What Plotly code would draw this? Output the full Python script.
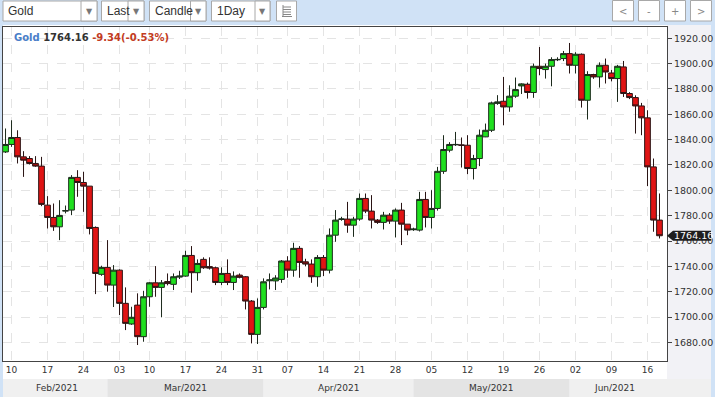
import plotly.graph_objects as go
import pandas as pd

# ---------------- data ----------------
missing_days = ["2021-03-07", "2021-04-02"]
dates = [d.strftime("%Y-%m-%d") for d in pd.date_range("2021-02-09", "2021-06-18", freq="D")
         if d.weekday() != 5 and d.strftime("%Y-%m-%d") not in missing_days]

open_ = [1830.3, 1836.2, 1841.7, 1826.4, 1825.1, 1821.2, 1819.1, 1788.3, 1778.6, 1771.2,
         1783.6, 1784.4, 1810.2, 1806.2, 1803.3, 1770.7, 1733.7, 1739.2, 1725.2, 1737.0,
         1710.8, 1694.5, 1709.4, 1684.5, 1716.0, 1727.0, 1723.4, 1728.0, 1725.8, 1731.5,
         1732.3, 1748.6, 1735.0, 1745.5, 1739.8, 1738.9, 1727.3, 1734.4, 1727.3, 1733.1,
         1731.8, 1712.6, 1686.3, 1707.6, 1728.6, 1728.5, 1729.7, 1744.2, 1737.0, 1754.2,
         1743.6, 1741.8, 1731.8, 1747.0, 1737.0, 1764.6, 1777.0, 1777.3, 1772.5, 1777.3,
         1793.6, 1783.6, 1776.5, 1774.7, 1780.4, 1775.7, 1784.4, 1773.3, 1768.9, 1768.6,
         1792.8, 1778.6, 1785.7, 1815.0, 1831.7, 1835.9, 1835.8, 1835.6, 1817.2, 1825.1,
         1842.2, 1847.4, 1868.6, 1870.3, 1865.8, 1874.3, 1882.4, 1883.7, 1877.2, 1897.9,
         1895.3, 1897.9, 1903.0, 1904.0, 1907.9, 1898.7, 1907.4, 1871.1, 1891.4, 1889.5,
         1898.7, 1892.6, 1888.2, 1897.4, 1876.4, 1873.2, 1866.6, 1857.2, 1818.5, 1776.5]
high = [1848.8, 1855.3, 1847.4, 1830.9, 1827.0, 1827.0, 1826.4, 1795.4, 1789.6, 1792.2,
        1788.0, 1812.0, 1815.9, 1814.6, 1803.3, 1771.5, 1740.5, 1760.7, 1741.0, 1737.6,
        1723.4, 1708.1, 1718.7, 1720.7, 1727.5, 1740.2, 1729.2, 1734.4, 1734.4, 1736.5,
        1752.3, 1756.0, 1745.5, 1747.1, 1747.1, 1739.8, 1739.2, 1745.5, 1736.0, 1734.4,
        1732.3, 1713.4, 1714.7, 1730.5, 1734.4, 1733.0, 1745.0, 1748.0, 1758.6, 1756.0,
        1746.0, 1745.5, 1748.9, 1748.9, 1769.9, 1784.4, 1779.1, 1790.9, 1779.1, 1797.5,
        1797.5, 1796.2, 1777.3, 1783.0, 1782.0, 1785.7, 1790.1, 1773.3, 1770.5, 1798.8,
        1798.8, 1800.1, 1818.5, 1843.5, 1838.0, 1846.1, 1841.7, 1843.5, 1828.0, 1848.0,
        1852.7, 1870.0, 1875.1, 1889.5, 1882.9, 1889.0, 1884.5, 1885.0, 1900.0, 1913.1,
        1900.0, 1905.0, 1905.0, 1910.0, 1916.3, 1909.0, 1908.0, 1894.0, 1892.0, 1901.0,
        1904.0, 1895.0, 1899.0, 1902.1, 1877.5, 1875.0, 1869.0, 1863.2, 1825.1, 1797.5]
low = [1829.5, 1834.3, 1821.2, 1810.6, 1820.4, 1818.5, 1787.5, 1769.9, 1768.0, 1760.7,
       1781.8, 1780.4, 1794.9, 1783.0, 1765.2, 1718.1, 1732.5, 1720.0, 1707.9, 1701.6,
       1689.7, 1693.8, 1677.9, 1680.5, 1708.1, 1716.0, 1699.8, 1725.0, 1721.3, 1730.0,
       1731.8, 1719.2, 1728.6, 1738.0, 1737.5, 1725.2, 1725.2, 1725.2, 1721.3, 1730.5,
       1706.0, 1679.2, 1678.7, 1706.0, 1721.8, 1721.3, 1727.0, 1731.0, 1731.8, 1731.0,
       1740.0, 1727.0, 1723.9, 1732.3, 1734.4, 1759.4, 1776.0, 1766.5, 1763.3, 1776.0,
       1782.0, 1769.9, 1773.5, 1769.1, 1773.5, 1762.8, 1756.8, 1764.6, 1768.0, 1767.5,
       1770.7, 1769.9, 1784.0, 1813.0, 1830.0, 1835.0, 1818.0, 1812.8, 1808.6, 1819.1,
       1842.0, 1846.0, 1867.5, 1851.4, 1862.0, 1873.0, 1876.0, 1872.4, 1873.0, 1890.8,
       1888.2, 1882.1, 1902.0, 1902.0, 1892.2, 1892.2, 1865.3, 1855.9, 1888.0, 1881.1,
       1884.3, 1886.0, 1869.8, 1873.7, 1872.0, 1844.8, 1843.5, 1803.3, 1767.3, 1762.0]
close = [1836.2, 1841.7, 1826.4, 1823.8, 1821.2, 1819.1, 1788.9, 1778.6, 1771.2, 1780.2,
         1784.0, 1810.2, 1806.2, 1803.3, 1769.9, 1734.4, 1739.2, 1725.2, 1737.0, 1710.8,
         1695.0, 1699.8, 1684.5, 1716.0, 1727.0, 1723.4, 1727.0, 1726.4, 1731.8, 1732.3,
         1748.6, 1735.0, 1742.3, 1738.9, 1738.6, 1727.3, 1734.4, 1727.3, 1732.3, 1731.3,
         1712.6, 1686.3, 1707.6, 1727.8, 1729.3, 1730.8, 1744.2, 1737.0, 1754.2, 1743.1,
         1741.8, 1731.8, 1747.0, 1737.0, 1764.6, 1776.5, 1777.4, 1772.5, 1777.3, 1793.6,
         1783.6, 1776.5, 1774.7, 1780.4, 1775.7, 1784.4, 1773.3, 1768.6, 1769.4, 1792.8,
         1778.6, 1785.7, 1815.0, 1832.2, 1836.2, 1836.2, 1835.6, 1817.2, 1825.1, 1843.5,
         1847.4, 1869.0, 1869.8, 1865.8, 1874.3, 1879.5, 1884.0, 1877.2, 1897.9, 1896.1,
         1897.9, 1903.2, 1903.3, 1907.9, 1898.7, 1907.4, 1871.1, 1891.4, 1889.5, 1898.7,
         1893.4, 1888.2, 1897.9, 1876.4, 1873.2, 1866.6, 1857.2, 1818.5, 1776.5, 1764.16]

tick_dates = ["2021-02-10", "2021-02-17", "2021-02-24", "2021-03-03", "2021-03-10",
              "2021-03-17", "2021-03-24", "2021-03-31", "2021-04-07", "2021-04-14",
              "2021-04-21", "2021-04-28", "2021-05-05", "2021-05-12", "2021-05-19",
              "2021-05-26", "2021-06-02", "2021-06-09", "2021-06-16"]
tick_labels = ["10", "17", "24", "03", "10", "17", "24", "31", "07", "14",
               "21", "28", "05", "12", "19", "26", "02", "09", "16"]
month_labels = ["Feb/2021", "Mar/2021", "Apr/2021", "May/2021", "Jun/2021"]
month_keys = ["2021-02", "2021-03", "2021-04", "2021-05", "2021-06"]

symbol = "Gold"
last_price = 1764.16
change = -9.34
change_pct = -0.53
toolbar_items = ["Gold", "Last", "Candle", "1Day"]
nav_buttons = ["<", "-", "+", ">"]

# ---------------- geometry helpers ----------------
W, H = 715, 397
L, R, T, B = 3, 667, 27, 361
X_RANGE = [-0.42, 110.25]
Y_RANGE = [1665.3, 1928.9]


def px(x):
    return (x - L) / (R - L)


def py(y):
    return (B - y) / (B - T)


def ix(i):
    return (i - X_RANGE[0]) / (X_RANGE[1] - X_RANGE[0])


FONT = "DejaVu Sans"
fig = go.Figure()
fig.add_trace(go.Candlestick(
    x=dates, open=open_, high=high, low=low, close=close,
    increasing=dict(fillcolor="#1fe01f", line=dict(color="#1c2a1c", width=1)),
    decreasing=dict(fillcolor="#e01414", line=dict(color="#2a1414", width=1)),
    whiskerwidth=0, showlegend=False, hoverinfo="skip"))

shapes = []
annotations = []

# panel backgrounds
shapes.append(dict(type="rect", xref="paper", yref="paper", x0=px(3), x1=px(711), y0=py(397), y1=py(25),
                   fillcolor="#f2f2f6", line=dict(width=0), layer="below"))
shapes.append(dict(type="rect", xref="paper", yref="paper", x0=px(3), x1=px(667), y0=py(379), y1=py(25),
                   fillcolor="#ffffff", line=dict(width=0), layer="below"))

# month band
first_idx = [next(i for i, d in enumerate(dates) if d.startswith(k)) for k in month_keys]
bounds = [ix(i) for i in first_idx] + [ix(len(dates) - 1)]
band_cols = ["#f0f0f0", "#e4e4e4", "#f0f0f0", "#e4e4e4", "#f0f0f0"]
for k, lab in enumerate(month_labels):
    x0 = px(3) if k == 0 else bounds[k]
    x1 = px(711) if k == len(month_labels) - 1 else bounds[k + 1]
    shapes.append(dict(type="rect", xref="paper", yref="paper", x0=x0, x1=x1, y0=py(397), y1=py(379),
                       fillcolor=band_cols[k], line=dict(width=0), layer="below"))
    annotations.append(dict(text=lab, xref="paper", yref="paper", x=(bounds[k] + bounds[k + 1]) / 2,
                            y=py(388), showarrow=False, xanchor="center", yanchor="middle",
                            font=dict(family=FONT, size=9, color="#333333")))

# toolbar dropdowns
boxes = [(3, 97, 81), (101.5, 144, 128), (149.5, 206, 190.5), (211.5, 270, 255)]
for (a, b, s), lab in zip(boxes, toolbar_items):
    shapes.append(dict(type="rect", xref="paper", yref="paper", x0=px(a), x1=px(b), y0=py(21), y1=py(1),
                       fillcolor="#ffffff", line=dict(color="#a8a8a8", width=1), layer="above"))
    annotations.append(dict(text=lab, xref="paper", yref="paper", x=px(a + 3), y=py(11), showarrow=False,
                            xanchor="left", yanchor="middle",
                            font=dict(family="Liberation Sans", size=12, color="#333333")))
    shapes.append(dict(type="rect", xref="paper", yref="paper", x0=px(s), x1=px(b), y0=py(21), y1=py(1),
                       fillcolor="#ffffff", line=dict(color="#a8a8a8", width=1), layer="above"))
    annotations.append(dict(text="▼", xref="paper", yref="paper", x=px((s + b) / 2), y=py(11),
                            showarrow=False, xanchor="center", yanchor="middle",
                            font=dict(family=FONT, size=8, color="#777777")))
# list icon button
shapes.append(dict(type="rect", xref="paper", yref="paper", x0=px(276.5), x1=px(296.5), y0=py(21), y1=py(1),
                   fillcolor="#ffffff", line=dict(color="#a8a8a8", width=1), layer="above"))
for yy in [7, 9.5, 12, 14.5]:
    shapes.append(dict(type="line", xref="paper", yref="paper", x0=px(283), x1=px(291), y0=py(yy), y1=py(yy),
                       line=dict(color="#888888", width=1), layer="above"))
shapes.append(dict(type="line", xref="paper", yref="paper", x0=px(283), x1=px(283), y0=py(5), y1=py(16),
                   line=dict(color="#888888", width=1), layer="above"))
shapes.append(dict(type="line", xref="paper", yref="paper", x0=px(282), x1=px(292), y0=py(16.5), y1=py(16.5),
                   line=dict(color="#888888", width=1), layer="above"))

# nav buttons
for k, lab in enumerate(nav_buttons):
    a = 612.5 + 26 * k
    shapes.append(dict(type="rect", xref="paper", yref="paper", x0=px(a), x1=px(a + 21), y0=py(21), y1=py(0.5),
                       fillcolor="#ffffff", line=dict(color="#a8a8a8", width=1), layer="above"))
    annotations.append(dict(text=lab, xref="paper", yref="paper", x=px(a + 10.5), y=py(11), showarrow=False,
                            xanchor="center", yanchor="middle",
                            font=dict(family=FONT, size=10, color="#888888")))

# title
annotations.append(dict(
    text=("<b><span style='color:#4a7ec8'>%s</span> <span style='color:#333333'>%.2f</span> "
          "<span style='color:#c23b22'>%.2f(%.2f%%)</span></b>") % (symbol, last_price, change, change_pct),
    xref="paper", yref="paper", x=px(12), y=py(37), showarrow=False, xanchor="left", yanchor="middle",
    font=dict(family=FONT, size=10)))

# last price tag
shapes.append(dict(type="path", xref="paper", yref="y", xanchor=1.0, yanchor=last_price,
                   xsizemode="pixel", ysizemode="pixel",
                   path="M 0,0 L 6,5 L 44,5 L 44,-5 L 6,-5 Z",
                   fillcolor="#1e1e1e", line=dict(width=0), layer="above"))
annotations.append(dict(text="%.2f" % last_price, xref="paper", yref="y", x=1.0, y=last_price,
                        xshift=5, showarrow=False, xanchor="left", yanchor="middle",
                        font=dict(family=FONT, size=9.5, color="#ffffff")))

fig.update_layout(
    width=W, height=H,
    margin=dict(l=L, r=W - R, t=T, b=H - B, autoexpand=False),
    paper_bgcolor="#d0e2f6", plot_bgcolor="#ffffff",
    boxgap=0.05, boxgroupgap=0,
    shapes=shapes, annotations=annotations,
    showlegend=False,
    xaxis=dict(type="category", categoryorder="array", categoryarray=dates, range=X_RANGE,
               tickvals=tick_dates, ticktext=tick_labels, tickangle=0,
               showgrid=True, gridcolor="#e4e4e4", griddash="dash", gridwidth=1,
               showline=True, linecolor="#444444", linewidth=1, mirror=True,
               ticks="", tickfont=dict(family=FONT, size=9, color="#333333"),
               rangeslider=dict(visible=False), fixedrange=True, zeroline=False, automargin=False),
    yaxis=dict(side="right", range=Y_RANGE, tick0=1680, dtick=20, tickformat=".2f",
               ticks="outside", ticklen=4, tickcolor="#444444",
               showgrid=True, gridcolor="#e4e4e4", griddash="dash", gridwidth=1,
               showline=True, linecolor="#444444", linewidth=1, mirror=True,
               tickfont=dict(family=FONT, size=9.5, color="#333333"), fixedrange=True, zeroline=False,
               automargin=False),
)

fig.write_html("out.html", config=dict(displayModeBar=False),
               post_script="document.body.style.margin='0';document.body.style.overflow='hidden';")
